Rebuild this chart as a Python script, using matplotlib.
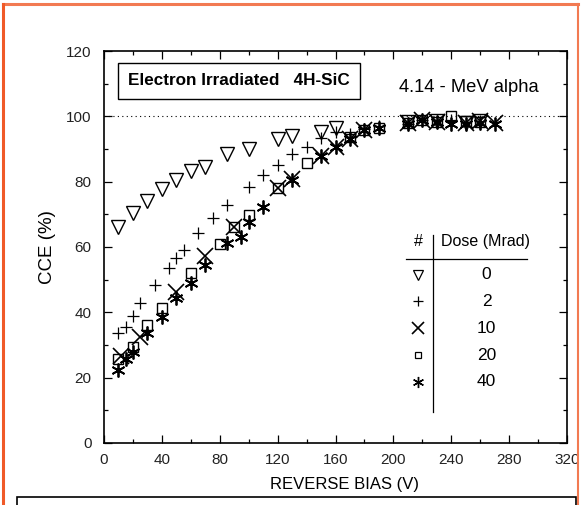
import matplotlib
matplotlib.use("Agg")
import matplotlib.pyplot as plt
from matplotlib.lines import Line2D
from matplotlib.patches import Rectangle

plt.rcParams['font.family'] = ['Liberation Sans', 'DejaVu Sans']

# dose 0 Mrad
bias_0 = [10, 20, 30, 40, 50, 60, 70, 85, 100, 120, 130, 150, 160, 210, 230, 250, 260]
cce_0 = [66, 70.3, 74, 77.7, 80.4, 83.2, 84.4, 88.4, 90, 93, 94, 95.2, 96.4, 98.2, 98.5, 98, 98.5]
# dose 2 Mrad
bias_2 = [10, 15, 20, 25, 35, 45, 50, 55, 65, 75, 85, 100, 110, 120, 130, 140, 150, 160, 170, 180, 190,
          210, 220, 240, 260]
cce_2 = [33.6, 35.5, 39, 42.8, 48.3, 53.5, 56.6, 59, 64.2, 68.8, 72.8, 78.3, 82, 85, 88.4, 90.5, 93.3,
         95.1, 94.5, 96, 97, 97.8, 99, 99, 98.5]
# dose 10 Mrad
bias_10 = [12, 25, 50, 70, 90, 120, 130, 150, 160, 170, 180, 210, 220, 230, 250, 260, 270]
cce_10 = [26.6, 32.5, 46.2, 57.2, 66, 78, 80.7, 88, 90.5, 93, 95.7, 98, 99, 98.2, 98, 98.5, 98]
# dose 20 Mrad
bias_20 = [10, 20, 30, 40, 60, 80, 90, 100, 120, 140, 170, 180, 190, 210, 220, 230, 240, 250, 260]
cce_20 = [25.7, 29.4, 36, 41.3, 52, 60.9, 66, 69.7, 78, 85.6, 93.6, 95.7, 96.5, 98, 98.8, 98.2, 100,
          98.5, 98.3]
# dose 40 Mrad
bias_40 = [10, 15, 20, 30, 40, 50, 60, 70, 85, 95, 100, 110, 130, 150, 160, 170, 180, 190, 210, 220,
           230, 240, 250, 260, 270]
cce_40 = [22.3, 25.7, 27.8, 33.6, 38.5, 44.3, 48.9, 54.4, 61.2, 63, 67.6, 72.2, 80.4, 88, 90.5, 93,
          95.7, 96.5, 97.5, 99, 98.3, 97.5, 97.8, 98, 97.5]

doses = ['0', '2', '10', '20', '40']
asterisk = (6, 2, 0)
narrow = ['Liberation Sans Narrow', 'Liberation Sans', 'DejaVu Sans']

fig = plt.figure(figsize=(5.81, 5.05), dpi=100)
ax = fig.add_axes([0.179, 0.123, 0.797, 0.776])

ax.plot(bias_0, cce_0, ls='none', marker='v', ms=9.5, mfc='none', mec='black', mew=1.0)
ax.plot(bias_2, cce_2, ls='none', marker='+', ms=9, mec='black', mew=0.9)
ax.plot(bias_10, cce_10, ls='none', marker='x', ms=11, mec='black', mew=1.2)
ax.plot(bias_20, cce_20, ls='none', marker='s', ms=7, mfc='none', mec='black', mew=1.0)
ax.plot(bias_40, cce_40, ls='none', marker=asterisk, ms=10, mec='black', mew=1.3)

ax.axhline(100, color='black', ls=(0, (1, 3)), lw=0.8)

ax.set_xlim(0, 320)
ax.set_ylim(0, 120)
ax.set_xticks(range(0, 321, 40))
ax.set_xticks(range(0, 321, 20), minor=True)
ax.set_yticks(range(0, 121, 20))
ax.set_yticks(range(0, 121, 10), minor=True)
ax.tick_params(which='both', direction='in', top=True, right=True, labelsize=11)
ax.tick_params(which='major', length=6, width=0.9)
ax.tick_params(which='minor', length=3, width=0.9)
ax.tick_params(axis='x', pad=7)
ax.tick_params(axis='y', pad=9)
for lab in ax.get_xticklabels() + ax.get_yticklabels():
    lab.set_family(narrow)
    lab.set_color('#222222')
for s in ax.spines.values():
    s.set_linewidth(1.2)

ax.set_xlabel('REVERSE BIAS (V)', fontsize=12)
ax.xaxis.set_label_coords(0.52, -0.088)
ax.set_ylabel('CCE (%)', fontsize=13.5)
ax.yaxis.set_label_coords(-0.103, 0.5)

ax.text(0.292, 0.924, 'Electron Irradiated   4H-SiC', transform=ax.transAxes, ha='center', va='center',
        fontsize=12.3, fontweight='bold',
        bbox=dict(boxstyle='square,pad=0.6', fc='white', ec='black', lw=1.0))
ax.text(0.638, 0.906, '4.14 - MeV alpha', transform=ax.transAxes, ha='left', va='center', fontsize=13.2)

# dose table
ax.text(0.678, 0.513, '#', transform=ax.transAxes, ha='center', va='center', fontsize=11.5)
ax.text(0.823, 0.513, 'Dose (Mrad)', transform=ax.transAxes, ha='center', va='center', fontsize=11.5)
ax.add_line(Line2D([0.711, 0.711], [0.531, 0.079], transform=ax.transAxes, color='black', lw=0.9))
ax.add_line(Line2D([0.652, 0.914], [0.469, 0.469], transform=ax.transAxes, color='black', lw=0.9))
rows_y = [0.429, 0.362, 0.293, 0.224, 0.156]
keys = [dict(marker='v', ms=7, mfc='none', mew=0.9), dict(marker='+', ms=7, mew=0.9),
        dict(marker='x', ms=9, mew=1.2), dict(marker='s', ms=5, mfc='none', mew=0.9),
        dict(marker=asterisk, ms=8, mew=1.0)]
for y, d, k in zip(rows_y, doses, keys):
    ax.plot([0.678], [y], transform=ax.transAxes, ls='none', mec='black', color='black', **k)
    ax.text(0.826, y, d, transform=ax.transAxes, ha='center', va='center', fontsize=12.5)

# page frame
orange = '#f27a52'
fig.add_artist(Line2D([0.005, 0.995], [0.992, 0.992], color=orange, lw=2.2))
fig.add_artist(Line2D([0.005, 0.005], [0.0, 0.992], color='#f05a28', lw=2.2))
fig.add_artist(Line2D([0.995, 0.995], [0.0, 0.992], color=orange, lw=1.5))
fig.add_artist(Rectangle((0.029, -0.05), 0.962, 0.066, transform=fig.transFigure, fill=False,
                         ec='black', lw=1.2))

fig.savefig('out.png', dpi=100)
